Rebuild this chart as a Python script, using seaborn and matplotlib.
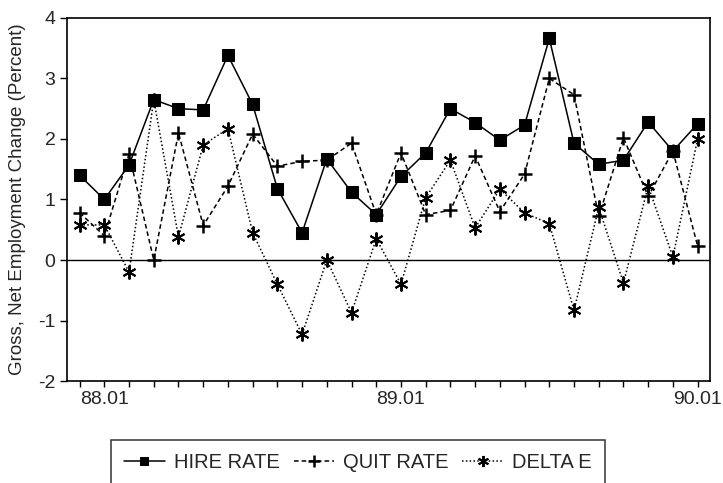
import numpy as np
import pandas as pd
import matplotlib
matplotlib.use("Agg")
import matplotlib.pyplot as plt
import seaborn as sns

sns.set_style("ticks")
plt.rcParams["font.family"] = ["Liberation Sans", "DejaVu Sans"]
plt.rcParams["axes.unicode_minus"] = False

# monthly data 87.12 .. 90.01
tick_labels = {1: "88.01", 13: "89.01", 25: "90.01"}
hire_rate = [1.40, 1.00, 1.57, 2.65, 2.50, 2.48, 3.38, 2.57, 1.18, 0.45, 1.67, 1.12, 0.75,
             1.38, 1.77, 2.50, 2.27, 1.98, 2.23, 3.66, 1.93, 1.58, 1.65, 2.28, 1.80, 2.25]
quit_rate = [0.78, 0.40, 1.75, 0.00, 2.10, 0.57, 1.22, 2.08, 1.55, 1.63, 1.65, 1.93, 0.75,
             1.77, 0.75, 0.82, 1.72, 0.80, 1.42, 3.00, 2.73, 0.72, 2.02, 1.05, 1.80, 0.23]
delta_e = [0.58, 0.58, -0.20, 2.65, 0.38, 1.90, 2.17, 0.45, -0.40, -1.23, 0.00, -0.87, 0.35,
           -0.40, 1.03, 1.65, 0.53, 1.17, 0.78, 0.60, -0.83, 0.87, -0.38, 1.22, 0.05, 2.00]

df = pd.DataFrame({"t": np.arange(len(hire_rate)), "HIRE RATE": hire_rate,
                   "QUIT RATE": quit_rate, "DELTA E": delta_e})

fig = plt.figure(figsize=(7.23, 4.83), dpi=100)
ax = fig.add_axes([0.093, 0.211, 0.889, 0.752])

ax.axhline(0, color="black", lw=1.0, zorder=1)

sns.lineplot(data=df, x="t", y="HIRE RATE", ax=ax, color="black", lw=1.1,
             marker="s", markersize=8, markeredgecolor="black", label="HIRE RATE",
             zorder=3)
sns.lineplot(data=df, x="t", y="QUIT RATE", ax=ax, color="black", lw=1.1,
             linestyle=(0, (3, 2)), marker="+", markersize=10, markeredgewidth=1.8,
             markeredgecolor="black", label="QUIT RATE", zorder=2)
sns.lineplot(data=df, x="t", y="DELTA E", ax=ax, color="black", lw=1.1,
             linestyle=(0, (1, 1.5)), marker=(6, 2, 0), markersize=10,
             markeredgewidth=1.4, markeredgecolor="black", label="DELTA E", zorder=2)

ax.set_xlim(-0.5, 25.5)
ax.set_ylim(-2, 4)
ax.set_yticks(range(-2, 5))
ax.set_xticks(range(len(hire_rate)))
ax.set_xticklabels([tick_labels.get(i, "") for i in range(len(hire_rate))])
ax.tick_params(axis="both", labelsize=14, color="black", length=5, width=1)
ax.tick_params(axis="x", length=4, pad=3)
ax.set_xlabel("")
ax.set_ylabel("Gross, Net Employment Change (Percent)", fontsize=13.5, labelpad=9)
for s in ax.spines.values():
    s.set_color("black")
    s.set_linewidth(1.2)

handles, labels = ax.get_legend_handles_labels()
ax.get_legend().remove()
leg = fig.legend(handles, labels, loc="center", bbox_to_anchor=(0.495, 0.042),
                 ncol=3, fontsize=14.5, frameon=True, fancybox=False, handlelength=2.0,
                 handletextpad=0.45, columnspacing=0.7, borderpad=0.65, markerscale=0.8)
leg.get_frame().set_edgecolor("black")
leg.get_frame().set_linewidth(1.1)

fig.savefig("out.png", dpi=100)
